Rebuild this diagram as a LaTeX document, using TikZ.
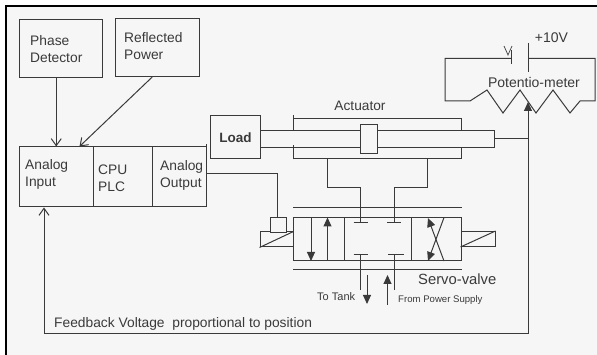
\documentclass[tikz,border=0pt]{standalone}
\usepackage{fontspec}
\setmainfont{Liberation Sans}
\usetikzlibrary{arrows.meta}
\definecolor{ink}{HTML}{3A3A3A}
\definecolor{paper}{HTML}{F6F6F6}
\tikzset{
    line/.style={draw=ink, line width=1pt},
    box/.style={line, fill=paper, inner sep=0pt, anchor=center},
    txt/.style={text=ink, inner sep=0pt, font=\fontsize{13.8}{17}\selectfont, align=left},
    open/.style={line, -{Straight Barb[length=7pt,width=10pt]}},
    solid/.style={line, -{Triangle[length=9pt,width=8pt]}}
}
\begin{document}
\begin{tikzpicture}[x=1pt, y=-1pt]
    \useasboundingbox (0,0) rectangle (597,355);
    \fill[white] (0,0) rectangle (597,355);
    \fill[paper] (6,6) rectangle (597,355);
    \draw[black, line width=2pt] (6,355) -- (6,6) -- (597,6);

    % Input boxes
    \node[box, minimum width=83pt, minimum height=58.5pt] (phase) at (61,48.75) {};
    \node[txt, right] (phasetxt) at (30,49.5) {Phase\\Detector};
    \node[box, minimum width=83.5pt, minimum height=58pt] (refl) at (157.25,47.5) {};
    \node[txt, right] (refltxt) at (124,46.5) {Reflected\\Power};

    % PLC
    \node[box, minimum width=73.5pt, minimum height=60pt] (ain) at (56.25,177) {};
    \node[box, minimum width=59.5pt, minimum height=60pt] (cpu) at (122.75,177) {};
    \node[box, minimum width=53.5pt, minimum height=60pt] (aout) at (179.25,177) {};
    \node[txt, right] (aintxt) at (25,174.5) {Analog\\Input};
    \node[txt, right] (cputxt) at (98,178) {CPU\\PLC};
    \node[txt, right] (aouttxt) at (160,175.5) {Analog\\Output};
    \draw[line, line width=1.5pt] (aout.north east) ++(0,-2) -- ++(0,37);

    \draw[open] (phase.south -| ain.north) -- (ain.north);
    \draw[open] ([xshift=-5pt]refl.south) -- ([xshift=-14pt]ain.north east);

    % Actuator
    \node[box, minimum width=167.5pt, minimum height=40.5pt] (cyl) at (377.25,138.75) {};
    \node[box, minimum width=234pt, minimum height=17pt] (rod) at (377.5,139) {};
    \node[box, minimum width=17pt, minimum height=29.5pt] (piston) at (369,139.25) {};
    \node[box, minimum width=50pt, minimum height=43pt] (load) at (235.5,137.5) {};
    \node[txt, font=\fontsize{13.5}{15}\selectfont\bfseries] (loadtxt) at (load) {Load};
    \node[txt, font=\fontsize{13.7}{15}\selectfont] (acttxt) at (360,106) {Actuator};
    \draw[line] (cyl.north west) -- ++(0,-3);
    \draw[line] (cyl.south west) -- ++(0,-14);

    % Servo valve
    \node[box, minimum width=51pt, minimum height=43.5pt] (vleft) at (319,239.25) {};
    \node[box, minimum width=66.5pt, minimum height=43.5pt] (vmid) at (377.75,239.25) {};
    \node[box, minimum width=50pt, minimum height=43.5pt] (vright) at (436,239.25) {};
    \node[box, minimum width=33pt, minimum height=15pt] (solleft) at (276.5,239.5) {};
    \node[box, minimum width=34pt, minimum height=15pt] (solright) at (478,239) {};
    \node[box, minimum width=16.5pt, minimum height=15pt] (plug) at (278.25,224.75) {};
    \draw[line] (solleft.south west) -- (solleft.north east);
    \draw[line] (solright.south west) -- (solright.north east);
    \draw[line] ([yshift=9pt]vleft.north west) -- ([yshift=9pt]vright.north east);
    \draw[line] ([yshift=-8pt]vleft.south west) -- ([yshift=-8pt]vright.south east);

    % Cell arrows
    \draw[solid] (311,217.5) -- (311,261);
    \draw[solid] (327.5,261) -- (327.5,217.5);
    \draw[solid] (444,261) -- (428,218);
    \draw[solid] (444,217.5) -- (428,261);

    % Ports
    \coordinate (pa) at (360.5,223);
    \coordinate (pb) at (394,223);
    \coordinate (pt) at (360.5,254.5);
    \coordinate (pp) at (394,254.5);
    \draw[line] ([xshift=-7pt]pa) -- ([xshift=7pt]pa);
    \draw[line] ([xshift=-7pt]pb) -- ([xshift=7pt]pb);
    \draw[line] ([xshift=-7pt]pt) -- ([xshift=7pt]pt);
    \draw[line] ([xshift=-6pt]pp) -- ([xshift=10pt]pp);
    \draw[line] (pt) -- ++(0,36);
    \draw[line] (pp) -- ++(0,36);
    \draw[line] (327.5,159) -- (327.5,188) -- (360.5,188) -- (pa);
    \draw[line] (427.7,159) -- (427.7,188) -- (394,188) -- (pb);
    \draw[solid] (367,275) -- (367,304);
    \draw[solid] (387.5,305) -- (387.5,275);

    \node[txt, right, font=\fontsize{14.8}{17}\selectfont] (servotxt) at (418,279) {Servo-valve};
    \node[txt, right, font=\fontsize{11}{13}\selectfont] (tanktxt) at (317,297) {To Tank};
    \node[txt, right, font=\fontsize{9.6}{11}\selectfont] (powertxt) at (398,300) {From Power Supply};

    % Signal to valve
    \draw[line] (aout.east |- 0,174) -- (277.5,174) -- (plug.north -| 277.5,0);

    % Potentiometer
    \coordinate (plateleft) at (511,58.5);
    \coordinate (plateright) at (528,58.5);
    \draw[line] (plateleft) -- (445,58.5) -- (445,101) -- (470,101) -- (487,90) -- (503,113)
        -- (520,90) -- (536,113) -- (553,90) -- (570,113) -- (580,101) -- (595,101)
        -- (595,58.5) -- (plateright);
    \draw[line] (511,50) -- (511,64);
    \draw[line] (528,43) -- (528,72);
    \draw[line, line width=0.7pt] (504,46) -- (508,55) -- (512,46);
    \node[txt, font=\fontsize{14}{16}\selectfont] (volttxt) at (551.5,38) {+10V};
    \node[txt, font=\fontsize{14}{16}\selectfont] (pottxt) at (534,82) {Potentio-meter};

    % Feedback
    \coordinate (wiper) at (528,102);
    \coordinate (fbright) at (528,333.5);
    \coordinate (fbleft) at (44,333.5);
    \draw[line] (rod.east) -- (rod.east -| wiper);
    \draw[solid] (fbright) -- (wiper);
    \draw[open] (fbright) -- (fbleft) -- (fbleft |- ain.south);
    \node[txt, right, font=\fontsize{13.8}{16}\selectfont] (fbtxt) at (54,323.5) {Feedback Voltage\ \ proportional to position};
\end{tikzpicture}
\end{document}
